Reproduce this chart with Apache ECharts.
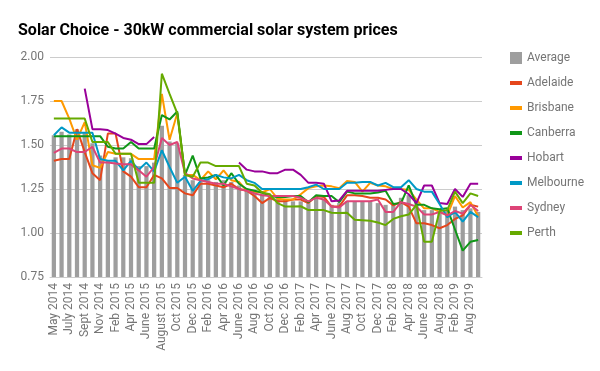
<!DOCTYPE html>
<html>
<head>
<meta charset="utf-8">
<script src="https://cdn.jsdelivr.net/npm/echarts@6/dist/echarts.min.js"></script>
<style>html,body{margin:0;padding:0;background:#fff;}#c{width:600px;height:371px;}</style>
</head>
<body>
<div id="c"></div>
<script>
const categories = ["May 2014","June 2014","July 2014","Aug 2014","Sept 2014","Oct 2014","Nov 2014","Jan 2015","Feb 2015","Mar 2015","Apr 2015","May 2015","June 2015","July 2015","August 2015","Sept 2015","Oct 2015","Nov 2015","Dec 2015","Jan 2016","Feb 2016","Mar 2016","Apr 2016","May 2016","June 2016","July 2016","Aug 2016","Sept 2016","Oct 2016","Nov 2016","Dec 2016","Jan 2017","Feb 2017","Mar 2017","Apr 2017","May 2017","June 2017","July 2017","Aug 2017","Sept 2017","Oct 2017","Nov 2017","Dec 2017","Jan 2018","Feb 2018","Mar 2018","Apr 2018","May 2018","June 2018","July 2018","Aug 2018","Nov 2018","Feb 2019","May 2019","Aug 2019","Nov 2019"];

const average = [1.555,1.575,1.56,1.59,1.57,1.51,1.44,1.41,1.43,1.43,1.425,1.38,1.38,1.40,1.61,1.52,1.51,1.33,1.30,1.29,1.30,1.29,1.30,1.29,1.27,1.25,1.24,1.225,1.21,1.20,1.19,1.18,1.18,1.17,1.20,1.19,1.16,1.17,1.18,1.18,1.18,1.18,1.17,1.16,1.16,1.20,1.215,1.19,1.13,1.13,1.12,1.13,1.15,1.13,1.14,1.12];
const adelaide = [1.41,1.42,1.42,1.59,1.46,1.34,1.30,1.565,1.565,1.35,1.32,1.26,1.26,1.33,1.31,1.256,1.256,1.225,1.214,1.28,1.28,1.27,1.26,1.28,1.25,1.24,1.21,1.17,1.20,1.18,1.18,1.19,1.19,1.17,1.21,1.205,1.15,1.15,1.214,1.214,1.21,1.20,1.20,1.19,1.157,1.176,1.15,1.055,1.055,1.045,1.027,1.045,1.08,1.10,1.16,1.15];
const brisbane = [1.75,1.75,1.65,1.53,1.63,1.385,1.37,1.46,1.45,1.45,1.45,1.42,1.42,1.42,1.79,1.53,1.68,1.33,1.33,1.30,1.35,1.305,1.356,1.30,1.29,1.24,1.235,1.23,1.25,1.195,1.19,1.19,1.22,1.255,1.265,1.27,1.265,1.255,1.295,1.29,1.235,1.285,1.27,1.265,1.25,1.25,1.245,1.19,1.14,1.14,1.12,1.10,1.21,1.145,1.175,1.095];
const canberra = [1.55,1.55,1.55,1.55,1.55,1.55,1.55,1.49,1.48,1.48,1.517,1.48,1.48,1.48,1.67,1.645,1.69,1.33,1.44,1.31,1.315,1.33,1.27,1.34,1.28,1.25,1.24,1.23,1.21,1.205,1.205,1.21,1.21,1.175,1.215,1.21,1.21,1.175,1.235,1.225,1.225,1.225,1.23,1.24,1.165,1.17,1.27,1.16,1.16,1.14,1.135,1.14,1.02,0.90,0.95,0.96];
const hobart = [null,null,null,null,1.82,1.59,1.59,1.585,1.565,1.54,1.53,1.505,1.505,1.545,null,null,null,null,null,null,null,null,null,null,1.40,1.36,1.35,1.35,1.34,1.34,1.36,1.36,1.33,1.285,1.285,1.28,1.18,1.185,1.24,1.24,1.24,1.24,1.24,1.245,1.25,1.25,1.22,1.17,1.27,1.27,1.17,1.165,1.25,1.205,1.28,1.28];
const melbourne = [1.555,1.60,1.57,1.57,1.57,1.57,1.42,1.41,1.41,1.356,1.41,1.36,1.40,1.35,1.47,1.375,1.285,1.32,1.24,1.295,1.305,1.33,1.316,1.31,1.33,1.30,1.285,1.25,1.25,1.25,1.25,1.25,1.25,1.26,1.275,1.25,1.25,1.25,1.285,1.285,1.29,1.29,1.27,1.285,1.26,1.26,1.30,1.25,1.235,1.235,1.165,1.09,1.12,1.065,1.12,1.09];
const sydney = [1.455,1.48,1.48,1.46,1.46,1.49,1.40,1.40,1.395,1.39,1.39,1.356,1.32,1.375,1.54,1.50,1.517,1.34,1.31,1.30,1.29,1.28,1.28,1.265,1.25,1.24,1.225,1.215,1.21,1.21,1.21,1.21,1.20,1.18,1.20,1.19,1.15,1.145,1.18,1.18,1.18,1.18,1.19,1.12,1.12,1.175,1.165,1.15,1.105,1.105,1.12,1.10,1.125,1.11,1.16,1.125];
const perth = [1.65,1.65,1.65,1.65,1.65,1.517,1.517,1.517,1.45,1.45,1.45,1.285,1.285,1.285,1.905,1.79,1.68,1.33,1.32,1.40,1.40,1.38,1.38,1.38,1.38,1.28,1.27,1.23,1.22,1.17,1.15,1.15,1.152,1.13,1.13,1.13,1.115,1.113,1.115,1.075,1.073,1.07,1.06,1.045,1.08,1.095,1.105,1.16,0.95,0.95,1.125,1.13,1.235,1.17,1.225,1.21];

const yTicks = [0.75, 1.00, 1.25, 1.50, 1.75, 2.00];

const lineSeries = [
  ["Adelaide", adelaide, "#e5461c"],
  ["Brisbane", brisbane, "#ff9900"],
  ["Canberra", canberra, "#109618"],
  ["Hobart", hobart, "#990099"],
  ["Melbourne", melbourne, "#0099c6"],
  ["Sydney", sydney, "#dd4477"],
  ["Perth", perth, "#66aa00"]
];

const chart = echarts.init(document.getElementById('c'), null, {renderer: 'canvas'});
const series = [{
  name: "Average", type: "bar", data: average, barWidth: "55%",
  itemStyle: {color: "#9e9e9e"}, z: 1
}];
lineSeries.forEach(function (s) {
  series.push({
    name: s[0], type: "line", data: s[1], symbol: "none", showSymbol: false,
    connectNulls: false,
    lineStyle: {width: 2, color: s[2]}, itemStyle: {color: s[2]}, z: 2
  });
});

const lineIcon = "path://M0,0 L12,0 L12,4 L0,4 Z";

chart.setOption({
  animation: false,
  backgroundColor: "#fff",
  title: {
    text: "Solar Choice - 30kW commercial solar system prices",
    left: 13, top: 18,
    textStyle: {fontFamily: "Roboto", fontWeight: "bold", fontSize: 16, color: "#000"}
  },
  legend: {
    orient: "vertical", left: 505, top: 47,
    itemWidth: 12, itemHeight: 12, itemGap: 13,
    symbolKeepAspect: true,
    data: [{name: "Average", icon: "rect"}].concat(lineSeries.map(function (s) { return {name: s[0], icon: lineIcon}; })),
    textStyle: {fontFamily: "Roboto", fontSize: 12, color: "#757575"}
  },
  grid: {left: 50, right: 118, top: 57, bottom: 94},
  xAxis: {
    type: "category", data: categories, boundaryGap: true,
    axisLine: {lineStyle: {color: "#cccccc"}},
    axisTick: {show: false},
    axisLabel: {rotate: 90, interval: 1, margin: 6, fontFamily: "Roboto", fontSize: 12, color: "#757575"}
  },
  yAxis: {
    type: "value", min: yTicks[0], max: yTicks[yTicks.length - 1], interval: 0.25,
    axisLine: {show: false}, axisTick: {show: false},
    splitLine: {lineStyle: {color: "#cccccc"}},
    axisLabel: {margin: 6, fontFamily: "Roboto", fontSize: 12, color: "#757575",
      formatter: function (v) { return v.toFixed(2); }}
  },
  series: series
});
</script>
</body>
</html>
